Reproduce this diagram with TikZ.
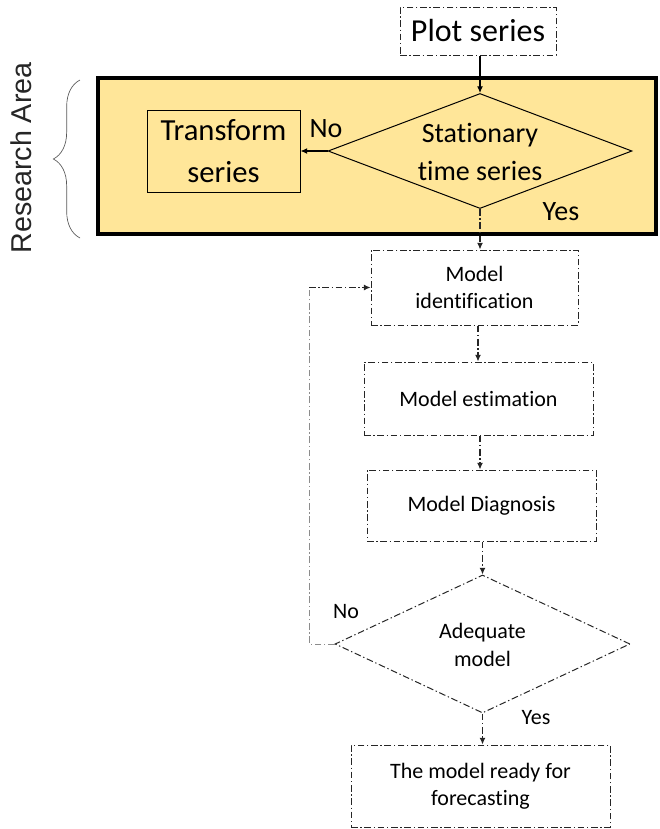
\documentclass[tikz,border=0pt]{standalone}
\usepackage{fontspec}
\setmainfont{Carlito}[RawFeature={-liga}]
\newfontfamily\labelfont{Liberation Sans}
\usetikzlibrary{shapes.geometric,arrows.meta,decorations.pathreplacing}
\definecolor{bandfill}{HTML}{FFE699}
\definecolor{loopgray}{HTML}{8C8C8C}
\begin{document}
\begin{tikzpicture}[x=0.75pt,y=-0.75pt,
  dashdot/.style={dash pattern=on 5pt off 2pt on 1pt off 2pt},
  flowbox/.style={draw=black!85,dashdot,line width=0.75pt,fill=white,inner sep=0pt,
    align=center,font=\fontsize{16.5}{20}\selectfont},
  decision/.style={diamond,draw=black!85,line width=0.75pt,inner sep=0pt,aspect=2},
  tip/.style={-{Latex[length=5pt,width=4.5pt]}},
  flowline/.style={draw=black!85,line width=0.9pt,dashdot,tip},
  answer/.style={font=\fontsize{16.5}{20}\selectfont,inner sep=0pt}]
\useasboundingbox (0,0) rectangle (660,829);

% highlighted research band
\node[draw=black,line width=3pt,fill=bandfill,minimum width=418.5pt,minimum height=117pt,inner sep=0pt]
  (band) at (377,156) {};

% brace and its caption
\draw[black!65,line width=0.5pt,decorate,decoration={brace,amplitude=20pt}]
  (80,238) -- (80,80);
\node[rotate=90,text=black!85,font=\labelfont\fontsize{21.5}{24}\selectfont,inner sep=0pt] (area) at (21,158) {Research Area};

% top part
\node[draw=black!85,dashdot,line width=0.75pt,fill=white,minimum width=117pt,minimum height=36pt,
  inner sep=0pt,font=\fontsize{24}{28}\selectfont] (plot) at (478,31) {Plot series};

\node[decision,fill=bandfill,draw=black,minimum width=228pt,minimum height=86.25pt] (stat) at (480,151) {};
\node[align=center,font=\fontsize{21}{28}\selectfont,inner sep=0pt] (stattext) at (480,152) {Stationary\\time series};

\node[draw=black,line width=0.75pt,fill=bandfill,minimum width=114.75pt,minimum height=61.5pt,
  inner sep=0pt,align=center,font=\fontsize{23}{31}\selectfont] (trans) at (223.5,151) {Transform\\series};

\draw[black,line width=0.9pt,tip] (plot.south -| stat.north) -- (stat.north);
\draw[black,line width=0.9pt,tip] (stat.west) -- (trans.east);
\node[font=\fontsize{21}{24}\selectfont,inner sep=0pt] (no1) at (326,129) {No};
\node[font=\fontsize{21}{24}\selectfont,inner sep=0pt] (yes1) at (561,212) {Yes};

% modelling loop
\node[flowbox,minimum width=155.25pt,minimum height=56.25pt] (ident) at (474.5,287.5) {Model\\identification};
\node[flowbox,minimum width=171.75pt,minimum height=54.75pt] (estim) at (478.5,398.5) {Model estimation};
\node[flowbox,minimum width=171.75pt,minimum height=53.25pt] (diag) at (481.5,505.5) {Model Diagnosis};
\node[decision,dashdot,fill=white,minimum width=221.25pt,minimum height=103.5pt] (adeq) at (482.5,644) {};
\node[align=center,font=\fontsize{16.5}{21}\selectfont,inner sep=0pt] (adeqtext) at (482.5,645) {Adequate\\model};
\node[flowbox,minimum width=194.25pt,minimum height=61.5pt] (ready) at (480.5,786) {The model ready for\\forecasting};

\coordinate (c1) at (478,0);
\coordinate (c2) at (480,0);
\coordinate (c3) at (482.5,0);
\draw[flowline] (stat.south) -- (stat.south |- ident.north);
\draw[flowline] (c1 |- ident.south) -- (c1 |- estim.north);
\draw[flowline] (c2 |- estim.south) -- (c2 |- diag.north);
\draw[flowline] (c3 |- diag.south) -- (adeq.north);
\draw[flowline] (adeq.south) -- (adeq.south |- ready.north);

\coordinate (loopx) at (309,0);
\draw[loopgray,line width=0.75pt,dashdot] (adeq.west) -- (loopx |- adeq.west) -- (loopx |- ident.west);
\draw[black!85,line width=0.75pt,dashdot,tip] (loopx |- ident.west) -- (ident.west);

\node[answer] (no2) at (346,612) {No};
\node[answer] (yes2) at (536,718) {Yes};
\end{tikzpicture}
\end{document}
